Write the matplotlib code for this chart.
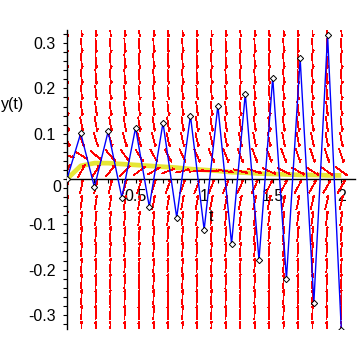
import numpy as np
import matplotlib
matplotlib.use('Agg')
import matplotlib.pyplot as plt
from matplotlib.collections import LineCollection

plt.rcParams['font.family'] = ['Liberation Sans', 'DejaVu Sans']

# slope field of y' = -k*y + exp(-t)
k = 21.0
t_grid = np.linspace(0, 2, 20)
y_grid = np.linspace(-0.33, 0.33, 20)

# Euler steps, h = 0.1 (blue)
t_euler = [0.0, 0.1, 0.2, 0.3, 0.4, 0.5, 0.6, 0.7, 0.8, 0.9, 1.0,
           1.1, 1.2, 1.3, 1.4, 1.5, 1.6, 1.7, 1.8, 1.9, 2.0]
y_euler = [0.0, 0.101, -0.018, 0.105, -0.041, 0.113, -0.061, 0.124, -0.085, 0.140, -0.112,
           0.162, -0.143, 0.188, -0.179, 0.224, -0.221, 0.266, -0.273, 0.318, -0.333]

# exact solution (yellow)
t_exact = t_euler
y_exact = [0.0, 0.029, 0.035, 0.035, 0.033, 0.031, 0.029, 0.027, 0.025, 0.022, 0.020,
           0.018, 0.015, 0.014, 0.012, 0.011, 0.010, 0.009, 0.009, 0.008, 0.008]

xticks = [0.5, 1, 1.5, 2]
xticklabels = ['0.5', '1', '1.5', '2']
yticks = [-0.3, -0.2, -0.1, 0.1, 0.2, 0.3]
yticklabels = ['-0.3', '-0.2', '-0.1', '0.1', '0.2', '0.3']

fig = plt.figure(figsize=(3.58, 3.58), dpi=100)
ax = fig.add_axes([67/358, 1 - 328.5/358, 288/358, 299/358])
ax.set_xlim(0, 2.1)
ax.set_ylim(-0.33, 0.33)

# pixels per data unit
sx = 288 / 2.1
sy = 299 / 0.66

L = 14.0    # arrow length, px
B = 2.2     # barb length, px
segs = []
for t in t_grid:
    for y in y_grid:
        s = -k*y + np.exp(-t)
        ang = np.arctan2(s*sy, sx)
        dx, dy = np.cos(ang), np.sin(ang)
        tail = (t - L/2*dx/sx, y - L/2*dy/sy)
        head = (t + L/2*dx/sx, y + L/2*dy/sy)
        ba = ang + np.radians(150)
        barb = (head[0] + B*np.cos(ba)/sx, head[1] + B*np.sin(ba)/sy)
        segs.append([tail, head, barb])
lc = LineCollection(segs, colors='#ff0000', linewidths=0.55, zorder=2, antialiaseds=False)
ax.add_collection(lc)

ax.plot(t_exact, y_exact, color='#e6e636', lw=3.4, zorder=1, solid_capstyle='butt')
ax.plot(t_euler, y_euler, color='#0000ff', lw=1.0, zorder=3,
        marker='D', markersize=3.2, markerfacecolor='white', markeredgecolor='black',
        markeredgewidth=0.7)

for side in ['top', 'right']:
    ax.spines[side].set_visible(False)
ax.spines['left'].set_position(('data', 0))
ax.spines['bottom'].set_position(('data', 0))
ax.spines['left'].set_linewidth(1.0)
ax.spines['bottom'].set_linewidth(1.0)

ax.set_xticks(xticks)
ax.set_xticklabels(xticklabels)
ax.set_xticks(np.arange(0.1, 2.05, 0.1), minor=True)
ax.set_yticks(yticks)
ax.set_yticklabels(yticklabels)
ax.set_yticks(np.arange(-0.32, 0.33, 0.02), minor=True)
ax.tick_params(which='both', direction='out', length=3, width=0.8, labelsize=11.5)
ax.tick_params(axis='x', pad=4)
ax.tick_params(axis='y', pad=5)

ax.text(-0.077, -0.018, '0', fontsize=11.5, ha='center', va='center', clip_on=False)
ax.text(1.05, -0.082, 't', fontsize=11.5, ha='center', va='center')
fig.text(13/358, 1 - 105/358, 'y(t)', fontsize=11.5, ha='center', va='center')

fig.savefig('out.png', dpi=100)
